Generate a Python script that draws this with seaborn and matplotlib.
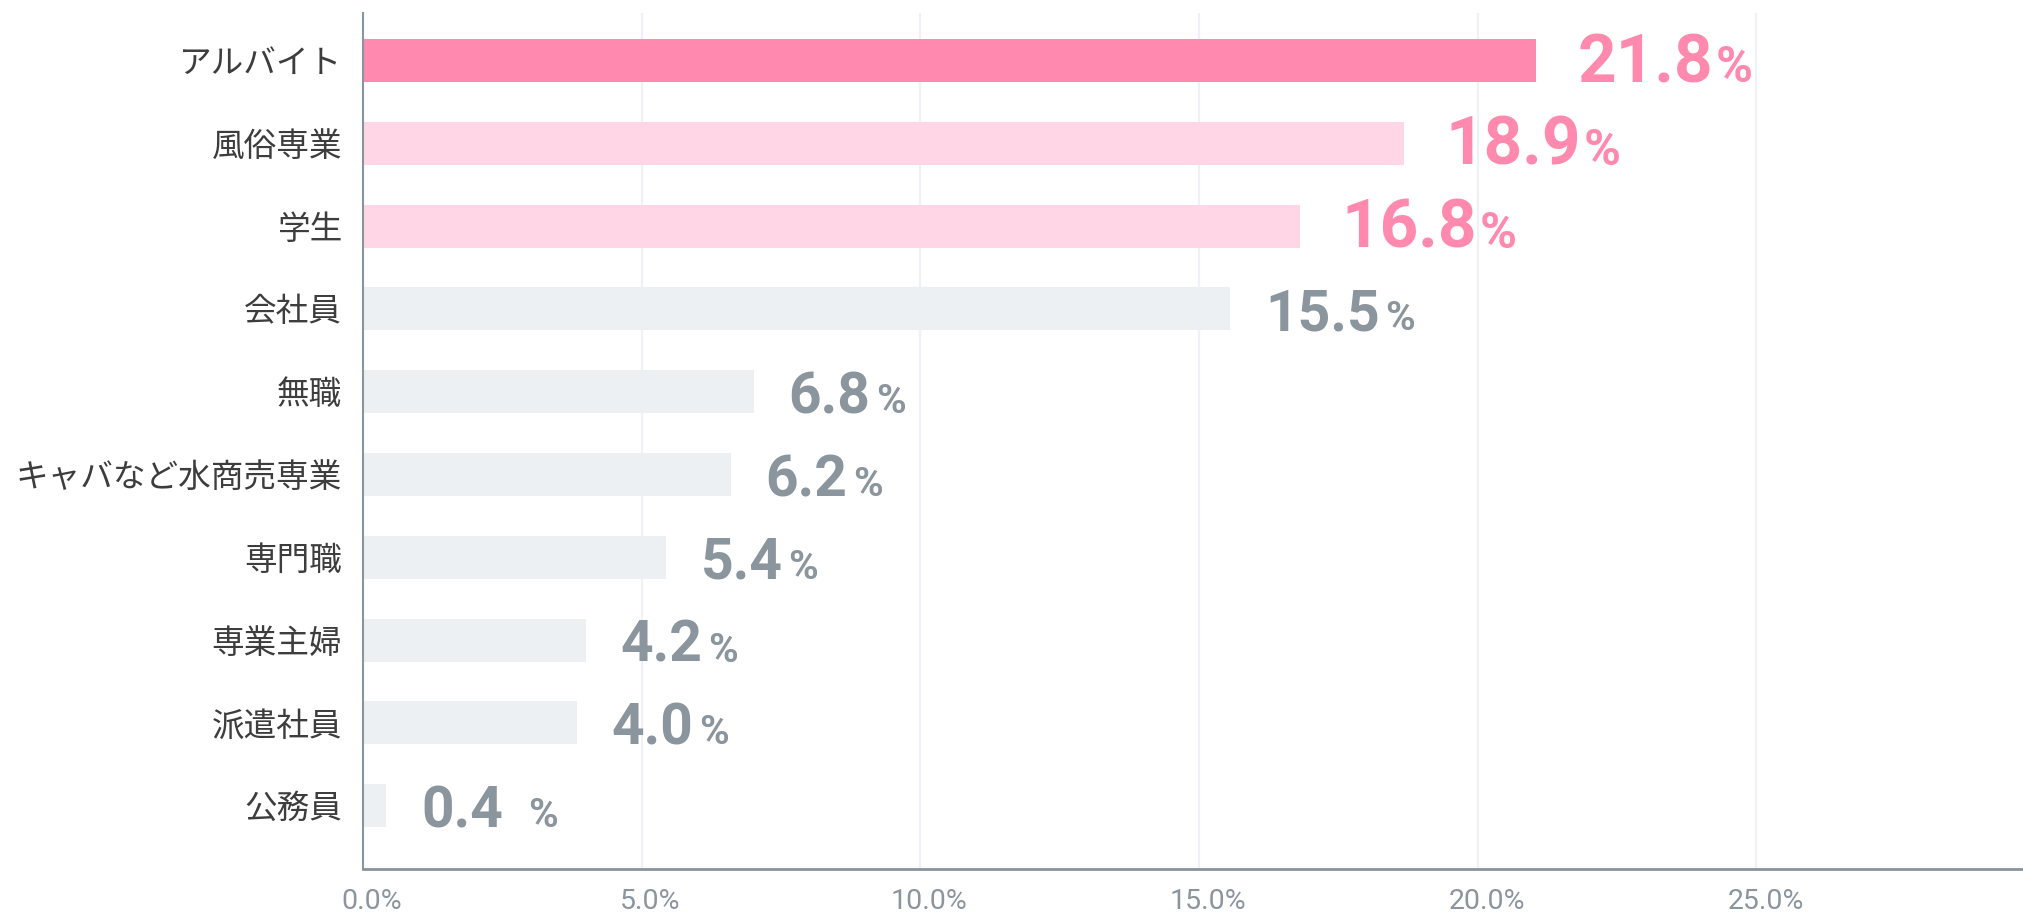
import matplotlib
matplotlib.use("Agg")
import matplotlib.pyplot as plt
import matplotlib.transforms as mtransforms
import seaborn as sns
import pandas as pd

# ---------------- data ----------------
categories = ['アルバイト', '風俗専業', '学生', '会社員', '無職',
              'キャバなど水商売専業', '専門職', '専業主婦', '派遣社員', '公務員']
bar_lengths = [21.04, 18.68, 16.81, 15.56, 7.01, 6.60, 5.44, 4.00, 3.84, 0.42]
value_labels = ['21.8', '18.9', '16.8', '15.5', '6.8', '6.2', '5.4', '4.2', '4.0', '0.4']
x_ticks = [0, 5, 10, 15, 20, 25]
x_tick_labels = ['0.0%', '5.0%', '10.0%', '15.0%', '20.0%', '25.0%']

# ---------------- style ----------------
PINK = '#ff89af'
LIGHT_PINK = '#ffd6e6'
GRAY_BAR = '#edf0f3'
GRAY_TEXT = '#8b959e'
AXIS_GRAY = '#8a949c'
GRID = '#eef1f5'
bar_colors = [PINK, LIGHT_PINK, LIGHT_PINK] + [GRAY_BAR] * 7
label_colors = [PINK] * 3 + [GRAY_TEXT] * 7
num_sizes = [48.5] * 3 + [41] * 7
pct_sizes = [36] * 3 + [29] * 7
num_offsets = [30] * 3 + [25] * 7
pct_gaps = [2, 2, 2, 4, 4, 4, 4, 4, 4, 18]

sns.set_theme(style='white')
plt.rcParams['font.family'] = ['Noto Sans CJK JP', 'DejaVu Sans']

df = pd.DataFrame({'category': categories, 'value': bar_lengths})

fig = plt.figure(figsize=(20.24, 9.17), dpi=100)
ax = fig.add_axes([0.1793, 0.0523, 0.8207, 0.9335])

BAR_H = 0.52
sns.barplot(data=df, x='value', y='category', hue='category',
            palette=bar_colors, orient='h', width=BAR_H, legend=False,
            saturation=1, ax=ax, linewidth=0)

ax.set_xlim(0, 29.8)
ax.set_ylim(9.765, -0.574)
ax.set_xticks(x_ticks, x_tick_labels)
ax.set_xlabel('')
ax.set_ylabel('')

ax.grid(axis='x', color=GRID, lw=1.6)
ax.grid(axis='y', visible=False)
ax.set_axisbelow(True)

for s in ['top', 'right']:
    ax.spines[s].set_visible(False)
ax.spines['left'].set_color(AXIS_GRAY)
ax.spines['left'].set_linewidth(1.5)
ax.spines['bottom'].set_color(AXIS_GRAY)
ax.spines['bottom'].set_linewidth(2.0)

ax.tick_params(axis='y', length=0, pad=15, labelsize=23.5, labelcolor='#3d3d3d')
ax.tick_params(axis='x', length=0, pad=14, labelsize=20.5, labelcolor=GRAY_TEXT)
shift = mtransforms.ScaledTranslation(9 / 100, 0, fig.dpi_scale_trans)
for lab in ax.get_xticklabels():
    lab.set_family(['Roboto', 'DejaVu Sans'])
    lab.set_transform(lab.get_transform() + shift)

for i, (L, txt) in enumerate(zip(bar_lengths, value_labels)):
    yb = i + BAR_H / 2
    t = ax.annotate(txt, xy=(L, yb), xytext=(num_offsets[i], 0), textcoords='offset points',
                    ha='left', va='baseline', fontsize=num_sizes[i],
                    fontweight='bold', color=label_colors[i],
                    family=['Roboto', 'DejaVu Sans'], annotation_clip=False)
    ax.annotate('%', xy=(1, yb), xycoords=(t, 'data'),
                xytext=(pct_gaps[i], 0), textcoords='offset points',
                ha='left', va='baseline', fontsize=pct_sizes[i],
                fontweight='bold', color=label_colors[i],
                family=['Roboto', 'DejaVu Sans'], annotation_clip=False)

fig.savefig('out.png', dpi=100, facecolor='white')
